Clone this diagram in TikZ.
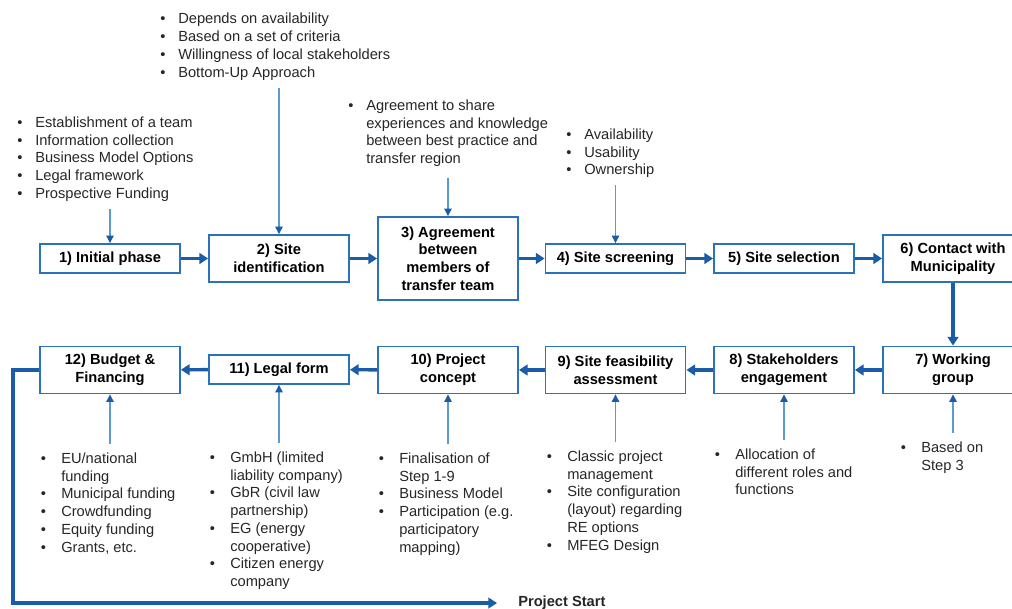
\documentclass[tikz,border=0pt]{standalone}
\usepackage{fontspec}
\setmainfont{Liberation Sans}
\usetikzlibrary{arrows.meta}
\definecolor{boxblue}{HTML}{2A72BC}
\definecolor{flowblue}{HTML}{1A5CA8}
\definecolor{thinblue}{HTML}{5A9BD5}
\definecolor{txtgray}{HTML}{262626}
\newlength\bgap
\newcommand\bitm{\llap{\textbullet\hspace{\bgap}}}
\begin{document}
\begin{tikzpicture}[x=0.75pt,y=-0.75pt,
  stepbox/.style={draw=boxblue,line width=1.4pt,fill=white,minimum width=105pt,inner sep=0pt,align=center,font=\fontsize{11}{13.3}\selectfont\bfseries},
  small/.style={minimum height=21.75pt},
  mid/.style={minimum height=35.25pt},
  tall/.style={minimum height=62.25pt},
  flow/.style={draw=flowblue,line width=2.6pt,-{Triangle[length=6.5pt,width=8pt]}},
  note/.style={draw=thinblue,line width=0.8pt,-{Triangle[length=5.5pt,width=5.5pt,color=flowblue]}},
  toplist/.style={anchor=base west,inner sep=0pt,text=txtgray,font=\fontsize{11}{13.3}\selectfont\setlength\bgap{9.5pt}},
  botlist/.style={anchor=base west,inner sep=0pt,text=txtgray,font=\fontsize{11}{13.3}\selectfont\setlength\bgap{11.5pt}},
]
\useasboundingbox (0,0) rectangle (1012,609);

% top row
\node[stepbox,small] (b1) at (110,258.5) {1) Initial phase};
\node[stepbox,mid]   (b2) at (279,258.5) {2) Site\\identification};
\node[stepbox,tall]  (b3) at (448,258.5) {3) Agreement\\between\\members of\\transfer team};
\node[stepbox,small] (b4) at (615.5,258.5) {4) Site screening};
\node[stepbox,small] (b5) at (784,258.5) {5) Site selection};
\node[stepbox,mid]   (b6) at (953,258.5) {6) Contact with\\Municipality};
% bottom row
\node[stepbox,mid]   (b7) at (953,370) {7) Working\\group};
\node[stepbox,mid]   (b8) at (784,370) {8) Stakeholders\\engagement};
\node[stepbox,mid]   (b9) at (615.5,370) {9) Site feasibility\\assessment};
\node[stepbox,mid]   (b10) at (448,370) {10) Project\\concept};
\node[stepbox,small] (b11) at (279,369.5) {11) Legal form};
\node[stepbox,mid]   (b12) at (110,370) {12) Budget \&\\Financing};

% flow
\draw[flow] (b1) -- (b2);
\draw[flow] (b2) -- (b3);
\draw[flow] (b3) -- (b4);
\draw[flow] (b4) -- (b5);
\draw[flow] (b5) -- (b6);
\draw[flow] (b6) -- (b7);
\draw[flow] (b7) -- (b8);
\draw[flow] (b8) -- (b9);
\draw[flow] (b9) -- (b10);
\draw[flow] (b10) -- (b11);
\draw[flow] (b11) -- (b12);
\coordinate (r1) at (13,603);
\coordinate (r2) at (497,603);
\draw[flow] (b12.west) -| (r1) -- (r2);
\node[anchor=base west,inner sep=0pt,font=\fontsize{11}{13.3}\selectfont\bfseries,text=txtgray] (ps) at (518,606) {Project Start};

% lists
\node[toplist] (l1) at (35,127.5) {\begin{tabular}[t]{@{}l@{}}
\bitm Establishment of a team\\ \bitm Information collection\\ \bitm Business Model Options\\ \bitm Legal framework\\ \bitm Prospective Funding\end{tabular}};
\node[toplist] (l2) at (178,24) {\begin{tabular}[t]{@{}l@{}}
\bitm Depends on availability\\ \bitm Based on a set of criteria\\ \bitm Willingness of local stakeholders\\ \bitm Bottom-Up Approach\end{tabular}};
\node[toplist] (l3) at (366,110.5) {\begin{tabular}[t]{@{}l@{}}
\bitm Agreement to share\\ experiences and knowledge\\ between best practice and\\ transfer region\end{tabular}};
\node[toplist] (l4) at (584,139.5) {\begin{tabular}[t]{@{}l@{}}
\bitm Availability\\ \bitm Usability\\ \bitm Ownership\end{tabular}};
\node[botlist] (l7) at (921,452.5) {\begin{tabular}[t]{@{}l@{}}
\bitm Based on\\ Step 3\end{tabular}};
\node[botlist] (l8) at (735,459.5) {\begin{tabular}[t]{@{}l@{}}
\bitm Allocation of\\ different roles and\\ functions\end{tabular}};
\node[botlist] (l9) at (567,461.5) {\begin{tabular}[t]{@{}l@{}}
\bitm Classic project\\ management\\ \bitm Site configuration\\ (layout) regarding\\ RE options\\ \bitm MFEG Design\end{tabular}};
\node[botlist] (l10) at (399,463.5) {\begin{tabular}[t]{@{}l@{}}
\bitm Finalisation of\\ Step 1-9\\ \bitm Business Model\\ \bitm Participation (e.g.\\ participatory\\ mapping)\end{tabular}};
\node[botlist] (l11) at (230,462.5) {\begin{tabular}[t]{@{}l@{}}
\bitm GmbH (limited\\ liability company)\\ \bitm GbR (civil law\\ partnership)\\ \bitm EG (energy\\ cooperative)\\ \bitm Citizen energy\\ company\end{tabular}};
\node[botlist] (l12) at (61,463.5) {\begin{tabular}[t]{@{}l@{}}
\bitm EU/national\\ funding\\ \bitm Municipal funding\\ \bitm Crowdfunding\\ \bitm Equity funding\\ \bitm Grants, etc.\end{tabular}};

% note arrows
\coordinate (n1) at (110,209);
\coordinate (n2) at (279,88);
\coordinate (n3) at (448,178);
\coordinate (n4) at (615.5,185);
\coordinate (n7) at (953,433);
\coordinate (n8) at (784,440);
\coordinate (n9) at (615.5,442);
\coordinate (n10) at (448,444);
\coordinate (n11) at (279,443);
\coordinate (n12) at (110,444);
\draw[note] (n1) -- (b1);
\draw[note] (n2) -- (b2);
\draw[note] (n3) -- (b3);
\draw[note] (n4) -- (b4);
\draw[note] (n7) -- (b7);
\draw[note] (n8) -- (b8);
\draw[note] (n9) -- (b9);
\draw[note] (n10) -- (b10);
\draw[note] (n11) -- (b11);
\draw[note] (n12) -- (b12);
\end{tikzpicture}
\end{document}
